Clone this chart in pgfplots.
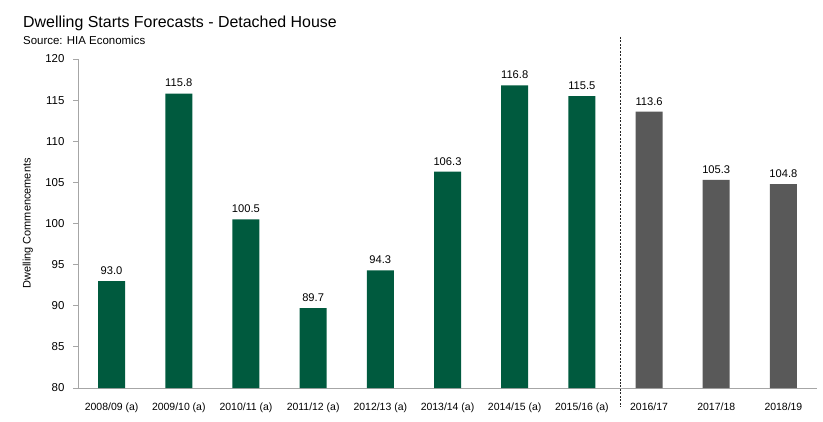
\documentclass[border=0pt]{standalone}
\usepackage{pgfplots}
\pgfplotsset{compat=1.18}
\usepackage{fontspec}
\setmainfont{Liberation Sans}
\definecolor{hiagreen}{RGB}{0,90,62}
\definecolor{hiagray}{RGB}{89,89,89}
\definecolor{axgray}{RGB}{166,166,166}
\pgfplotsset{/pgf/number format/assume math mode=true}
\begin{document}
\begin{tikzpicture}
\path[use as bounding box] (0,0) rectangle (823bp,422bp);
\begin{axis}[
  at={(78bp,34bp)}, anchor=south west,
  scale only axis, width=739bp, height=329bp,
  xmin=-0.5, xmax=10.5, ymin=80, ymax=120,
  axis x line*=bottom, axis y line*=left,
  axis line style={axgray, line width=0.8pt, -},
  ytick={80,85,...,120},
  xtick={0,...,10},
  xticklabels={2008/09 (a),2009/10 (a),2010/11 (a),2011/12 (a),2012/13 (a),2013/14 (a),2014/15 (a),2015/16 (a),2016/17,2017/18,2018/19},
  xtick style={draw=none},
  ytick style={axgray, line width=0.8pt},
  tick align=outside, major tick length=5bp,
  yticklabel style={font=\fontsize{11.5}{13}\selectfont, xshift=-5bp},
  xticklabel style={font=\fontsize{10.5}{12}\selectfont, yshift=-6bp},
  ylabel={Dwelling Commencements},
  ylabel style={font=\fontsize{11}{13}\selectfont, at={(axis description cs:-0.068,0.5)}, anchor=center},
  clip=false,
  nodes near coords={\pgfmathprintnumber[fixed,fixed zerofill,precision=1]{\pgfplotspointmeta}},
  every node near coord/.append style={font=\fontsize{11.2}{13}\selectfont, black, yshift=3bp},
]
\addplot[ybar, bar width=27bp, bar shift=0pt, fill=hiagreen, draw=none]
  coordinates {(0,93.0) (1,115.8) (2,100.5) (3,89.7) (4,94.3) (5,106.3) (6,116.8) (7,115.5)};
\addplot[ybar, bar width=27bp, bar shift=0pt, fill=hiagray, draw=none]
  coordinates {(8,113.6) (9,105.3) (10,104.8)};
\draw[black!85, line width=0.6pt, dash pattern=on 2pt off 1.5pt] (axis cs:7.57,122.7) -- (axis cs:7.57,77.7);
\end{axis}
\node[anchor=base west, inner sep=0pt, font=\fontsize{16}{19}\selectfont] at (23bp,394bp) {Dwelling Starts Forecasts - Detached House};
\node[anchor=base west, inner sep=0pt, font=\fontsize{11.5}{14}\selectfont] at (23bp,377bp) {Source: HIA Economics};
\end{tikzpicture}
\end{document}
